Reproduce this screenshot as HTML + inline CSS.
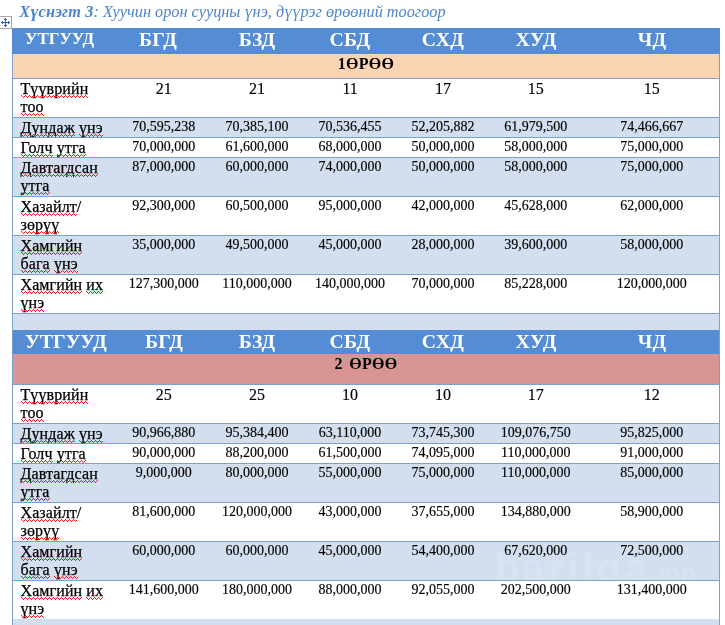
<!DOCTYPE html>
<html lang="mn"><head><meta charset="utf-8"><title>Хүснэгт 3</title>
<style>
html,body{margin:0;padding:0;background:#fff;}
body{width:725px;height:625px;position:relative;overflow:hidden;font-family:"Liberation Serif","DejaVu Serif",serif;color:#000;}
.abs{position:absolute;}
.row{position:absolute;left:12px;width:708px;}
.hl{position:absolute;left:12px;width:708px;height:1px;background:#7ba0cd;}
.vl{position:absolute;width:1px;background:#7ba0cd;}
.title{position:absolute;white-space:nowrap;font-style:italic;color:#4d84cc;}
.title b{font-weight:bold;letter-spacing:0.15px;}
.hd{position:absolute;color:#fff;font-weight:bold;text-align:center;white-space:nowrap;letter-spacing:0.01em;transform:scaleX(1.06);transform-origin:50% 50%;}
.lab{-webkit-text-stroke:0.25px #000;position:absolute;white-space:nowrap;font-size:16px;line-height:18px;height:18px;letter-spacing:0.1px;}
.num{-webkit-text-stroke:0.15px #000;position:absolute;text-align:center;white-space:nowrap;width:140px;margin-left:-70px;}
.w{display:inline-block;position:relative;}
.w::after{content:"";position:absolute;left:0;right:0;top:15px;height:3px;
background-image:linear-gradient(90deg,#e42020 1px,transparent 1px),linear-gradient(90deg,transparent 1px,#e42020 1px,#e42020 2px,transparent 2px,transparent 3px,#e42020 3px),linear-gradient(90deg,transparent 2px,#e42020 2px,#e42020 3px,transparent 3px);
background-size:4px 1px,4px 1px,4px 1px;background-position:0 0,0 1px,0 2px;background-repeat:repeat-x;}
.sec{position:absolute;left:12px;width:708px;text-align:center;font-weight:bold;white-space:pre;font-size:16px;line-height:20px;letter-spacing:0.3px;}
</style></head><body>

<div class="title" style="left:19.3px;top:3.2px;font-size:16.27px;line-height:18px"><b>Хүснэгт 3</b>: Хуучин орон сууцны үнэ, дүүрэг өрөөний тоогоор</div>
<div class="abs" style="left:-1px;top:16px;width:13px;height:13px;border:1px solid #a8a8a8;background:#fcfcff;box-sizing:border-box"></div>
<svg class="abs" style="left:1px;top:18px" width="9" height="9" viewBox="0 0 9 9" shape-rendering="crispEdges" fill="#2f62b5"><rect x="4" y="0" width="1" height="1"/><rect x="3" y="1" width="1" height="1"/><rect x="4" y="1" width="1" height="1"/><rect x="5" y="1" width="1" height="1"/><rect x="4" y="2" width="1" height="1"/><rect x="1" y="3" width="1" height="1"/><rect x="4" y="3" width="1" height="1"/><rect x="7" y="3" width="1" height="1"/><rect x="0" y="4" width="1" height="1"/><rect x="1" y="4" width="1" height="1"/><rect x="2" y="4" width="1" height="1"/><rect x="3" y="4" width="1" height="1"/><rect x="4" y="4" width="1" height="1"/><rect x="5" y="4" width="1" height="1"/><rect x="6" y="4" width="1" height="1"/><rect x="7" y="4" width="1" height="1"/><rect x="8" y="4" width="1" height="1"/><rect x="1" y="5" width="1" height="1"/><rect x="4" y="5" width="1" height="1"/><rect x="7" y="5" width="1" height="1"/><rect x="4" y="6" width="1" height="1"/><rect x="3" y="7" width="1" height="1"/><rect x="4" y="7" width="1" height="1"/><rect x="5" y="7" width="1" height="1"/><rect x="4" y="8" width="1" height="1"/></svg>
<div class="row" style="top:28px;height:26px;background:#548dd4"></div>
<div class="hd" style="left:24.9px;top:28.1px;font-size:16px;line-height:22px;letter-spacing:0;transform:scaleX(1.055);transform-origin:0 50%">УТГУУД</div>
<div class="hd" style="left:97.9px;width:120px;top:28.6989px;font-size:18.67px;line-height:22px">БГД</div>
<div class="hd" style="left:196.7px;width:120px;top:28.6989px;font-size:18.67px;line-height:22px">БЗД</div>
<div class="hd" style="left:289.7px;width:120px;top:28.6989px;font-size:18.67px;line-height:22px">СБД</div>
<div class="hd" style="left:382.6px;width:120px;top:28.6989px;font-size:18.67px;line-height:22px">СХД</div>
<div class="hd" style="left:476.2px;width:120px;top:28.6989px;font-size:18.67px;line-height:22px">ХУД</div>
<div class="hd" style="left:592.2px;width:120px;top:28.6989px;font-size:18.67px;line-height:22px">ЧД</div>
<div class="row" style="top:54px;height:24px;background:#fbd4b4"></div>
<div class="sec" style="top:54.1px;word-spacing:0px">1ӨРӨӨ</div>
<div class="row" style="top:78px;height:39px;background:#fff"></div>
<div class="row" style="top:117px;height:20px;background:#d3dfee"></div>
<div class="row" style="top:137px;height:20px;background:#fff"></div>
<div class="row" style="top:157px;height:39px;background:#d3dfee"></div>
<div class="row" style="top:196px;height:39px;background:#fff"></div>
<div class="row" style="top:235px;height:39px;background:#d3dfee"></div>
<div class="row" style="top:274px;height:39px;background:#fff"></div>
<div class="hl" style="top:78px"></div>
<div class="hl" style="top:117px"></div>
<div class="hl" style="top:137px"></div>
<div class="hl" style="top:157px"></div>
<div class="hl" style="top:196px"></div>
<div class="hl" style="top:235px"></div>
<div class="hl" style="top:274px"></div>
<div class="hl" style="top:313px"></div>
<div class="lab" style="left:20.5px;top:80px"><span class="w">Түүврийн</span></div>
<div class="lab" style="left:20.5px;top:98px"><span class="w">тоо</span></div>
<div class="num" style="left:163.8px;top:80.1px;font-size:16px;line-height:18px">21</div>
<div class="num" style="left:257.1px;top:80.1px;font-size:16px;line-height:18px">21</div>
<div class="num" style="left:350.1px;top:80.1px;font-size:16px;line-height:18px">11</div>
<div class="num" style="left:443px;top:80.1px;font-size:16px;line-height:18px">17</div>
<div class="num" style="left:535.8px;top:80.1px;font-size:16px;line-height:18px">15</div>
<div class="num" style="left:651.8px;top:80.1px;font-size:16px;line-height:18px">15</div>
<div class="lab" style="left:20.5px;top:119px"><span class="w">Дундаж</span> <span class="w">үнэ</span></div>
<div class="num" style="left:163.8px;top:117.975px;font-size:14px;line-height:18px">70,595,238</div>
<div class="num" style="left:257.1px;top:117.975px;font-size:14px;line-height:18px">70,385,100</div>
<div class="num" style="left:350.1px;top:117.975px;font-size:14px;line-height:18px">70,536,455</div>
<div class="num" style="left:443px;top:117.975px;font-size:14px;line-height:18px">52,205,882</div>
<div class="num" style="left:535.8px;top:117.975px;font-size:14px;line-height:18px">61,979,500</div>
<div class="num" style="left:651.8px;top:117.975px;font-size:14px;line-height:18px">74,466,667</div>
<div class="lab" style="left:20.5px;top:139px"><span class="w">Голч</span> <span class="w">утга</span></div>
<div class="num" style="left:163.8px;top:137.975px;font-size:14px;line-height:18px">70,000,000</div>
<div class="num" style="left:257.1px;top:137.975px;font-size:14px;line-height:18px">61,600,000</div>
<div class="num" style="left:350.1px;top:137.975px;font-size:14px;line-height:18px">68,000,000</div>
<div class="num" style="left:443px;top:137.975px;font-size:14px;line-height:18px">50,000,000</div>
<div class="num" style="left:535.8px;top:137.975px;font-size:14px;line-height:18px">58,000,000</div>
<div class="num" style="left:651.8px;top:137.975px;font-size:14px;line-height:18px">75,000,000</div>
<div class="lab" style="left:20.5px;top:159px"><span class="w">Давтагдсан</span></div>
<div class="lab" style="left:20.5px;top:177px"><span class="w">утга</span></div>
<div class="num" style="left:163.8px;top:157.975px;font-size:14px;line-height:18px">87,000,000</div>
<div class="num" style="left:257.1px;top:157.975px;font-size:14px;line-height:18px">60,000,000</div>
<div class="num" style="left:350.1px;top:157.975px;font-size:14px;line-height:18px">74,000,000</div>
<div class="num" style="left:443px;top:157.975px;font-size:14px;line-height:18px">50,000,000</div>
<div class="num" style="left:535.8px;top:157.975px;font-size:14px;line-height:18px">58,000,000</div>
<div class="num" style="left:651.8px;top:157.975px;font-size:14px;line-height:18px">75,000,000</div>
<div class="lab" style="left:20.5px;top:198px"><span class="w">Хазайлт</span>/</div>
<div class="lab" style="left:20.5px;top:216px"><span class="w">зөрүү</span></div>
<div class="num" style="left:163.8px;top:196.975px;font-size:14px;line-height:18px">92,300,000</div>
<div class="num" style="left:257.1px;top:196.975px;font-size:14px;line-height:18px">60,500,000</div>
<div class="num" style="left:350.1px;top:196.975px;font-size:14px;line-height:18px">95,000,000</div>
<div class="num" style="left:443px;top:196.975px;font-size:14px;line-height:18px">42,000,000</div>
<div class="num" style="left:535.8px;top:196.975px;font-size:14px;line-height:18px">45,628,000</div>
<div class="num" style="left:651.8px;top:196.975px;font-size:14px;line-height:18px">62,000,000</div>
<div class="lab" style="left:20.5px;top:237px"><span class="w">Хамгийн</span></div>
<div class="lab" style="left:20.5px;top:255px"><span class="w">бага</span> <span class="w">үнэ</span></div>
<div class="num" style="left:163.8px;top:235.975px;font-size:14px;line-height:18px">35,000,000</div>
<div class="num" style="left:257.1px;top:235.975px;font-size:14px;line-height:18px">49,500,000</div>
<div class="num" style="left:350.1px;top:235.975px;font-size:14px;line-height:18px">45,000,000</div>
<div class="num" style="left:443px;top:235.975px;font-size:14px;line-height:18px">28,000,000</div>
<div class="num" style="left:535.8px;top:235.975px;font-size:14px;line-height:18px">39,600,000</div>
<div class="num" style="left:651.8px;top:235.975px;font-size:14px;line-height:18px">58,000,000</div>
<div class="lab" style="left:20.5px;top:276px"><span class="w">Хамгийн</span> <span class="w">их</span></div>
<div class="lab" style="left:20.5px;top:294px"><span class="w">үнэ</span></div>
<div class="num" style="left:163.8px;top:274.975px;font-size:14px;line-height:18px">127,300,000</div>
<div class="num" style="left:257.1px;top:274.975px;font-size:14px;line-height:18px">110,000,000</div>
<div class="num" style="left:350.1px;top:274.975px;font-size:14px;line-height:18px">140,000,000</div>
<div class="num" style="left:443px;top:274.975px;font-size:14px;line-height:18px">70,000,000</div>
<div class="num" style="left:535.8px;top:274.975px;font-size:14px;line-height:18px">85,228,000</div>
<div class="num" style="left:651.8px;top:274.975px;font-size:14px;line-height:18px">120,000,000</div>
<div class="row" style="top:313px;height:18px;background:#d3dfee"></div>
<div class="row" style="top:330px;height:24px;background:#548dd4"></div>
<div class="hd" style="left:25.4px;top:331.299px;font-size:18.67px;line-height:22px;letter-spacing:0;transform:scaleX(1.07);transform-origin:0 50%">УТГУУД</div>
<div class="hd" style="left:104.2px;width:120px;top:331.299px;font-size:18.67px;line-height:22px">БГД</div>
<div class="hd" style="left:196.7px;width:120px;top:331.299px;font-size:18.67px;line-height:22px">БЗД</div>
<div class="hd" style="left:289.7px;width:120px;top:331.299px;font-size:18.67px;line-height:22px">СБД</div>
<div class="hd" style="left:382.6px;width:120px;top:331.299px;font-size:18.67px;line-height:22px">СХД</div>
<div class="hd" style="left:476.2px;width:120px;top:331.299px;font-size:18.67px;line-height:22px">ХУД</div>
<div class="hd" style="left:592.2px;width:120px;top:331.299px;font-size:18.67px;line-height:22px">ЧД</div>
<div class="row" style="top:354px;height:30px;background:#d99594"></div>
<div class="sec" style="top:354.1px;word-spacing:-1px">2  ӨРӨӨ</div>
<div class="row" style="top:384px;height:39px;background:#fff"></div>
<div class="row" style="top:423px;height:20px;background:#d3dfee"></div>
<div class="row" style="top:443px;height:20px;background:#fff"></div>
<div class="row" style="top:463px;height:39px;background:#d3dfee"></div>
<div class="row" style="top:502px;height:39px;background:#fff"></div>
<div class="row" style="top:541px;height:39px;background:#d3dfee"></div>
<div class="row" style="top:580px;height:39px;background:#fff"></div>
<div class="hl" style="top:384px"></div>
<div class="hl" style="top:423px"></div>
<div class="hl" style="top:443px"></div>
<div class="hl" style="top:463px"></div>
<div class="hl" style="top:502px"></div>
<div class="hl" style="top:541px"></div>
<div class="hl" style="top:580px"></div>
<div class="hl" style="top:619px"></div>
<div class="lab" style="left:20.5px;top:386px"><span class="w">Түүврийн</span></div>
<div class="lab" style="left:20.5px;top:404px"><span class="w">тоо</span></div>
<div class="num" style="left:163.8px;top:386.1px;font-size:16px;line-height:18px">25</div>
<div class="num" style="left:257.1px;top:386.1px;font-size:16px;line-height:18px">25</div>
<div class="num" style="left:350.1px;top:386.1px;font-size:16px;line-height:18px">10</div>
<div class="num" style="left:443px;top:386.1px;font-size:16px;line-height:18px">10</div>
<div class="num" style="left:535.8px;top:386.1px;font-size:16px;line-height:18px">17</div>
<div class="num" style="left:651.8px;top:386.1px;font-size:16px;line-height:18px">12</div>
<div class="lab" style="left:20.5px;top:425px"><span class="w">Дундаж</span> <span class="w">үнэ</span></div>
<div class="num" style="left:163.8px;top:423.975px;font-size:14px;line-height:18px">90,966,880</div>
<div class="num" style="left:257.1px;top:423.975px;font-size:14px;line-height:18px">95,384,400</div>
<div class="num" style="left:350.1px;top:423.975px;font-size:14px;line-height:18px">63,110,000</div>
<div class="num" style="left:443px;top:423.975px;font-size:14px;line-height:18px">73,745,300</div>
<div class="num" style="left:535.8px;top:423.975px;font-size:14px;line-height:18px">109,076,750</div>
<div class="num" style="left:651.8px;top:423.975px;font-size:14px;line-height:18px">95,825,000</div>
<div class="lab" style="left:20.5px;top:445px"><span class="w">Голч</span> <span class="w">утга</span></div>
<div class="num" style="left:163.8px;top:443.975px;font-size:14px;line-height:18px">90,000,000</div>
<div class="num" style="left:257.1px;top:443.975px;font-size:14px;line-height:18px">88,200,000</div>
<div class="num" style="left:350.1px;top:443.975px;font-size:14px;line-height:18px">61,500,000</div>
<div class="num" style="left:443px;top:443.975px;font-size:14px;line-height:18px">74,095,000</div>
<div class="num" style="left:535.8px;top:443.975px;font-size:14px;line-height:18px">110,000,000</div>
<div class="num" style="left:651.8px;top:443.975px;font-size:14px;line-height:18px">91,000,000</div>
<div class="lab" style="left:20.5px;top:465px"><span class="w">Давтагдсан</span></div>
<div class="lab" style="left:20.5px;top:483px"><span class="w">утга</span></div>
<div class="num" style="left:163.8px;top:463.975px;font-size:14px;line-height:18px">9,000,000</div>
<div class="num" style="left:257.1px;top:463.975px;font-size:14px;line-height:18px">80,000,000</div>
<div class="num" style="left:350.1px;top:463.975px;font-size:14px;line-height:18px">55,000,000</div>
<div class="num" style="left:443px;top:463.975px;font-size:14px;line-height:18px">75,000,000</div>
<div class="num" style="left:535.8px;top:463.975px;font-size:14px;line-height:18px">110,000,000</div>
<div class="num" style="left:651.8px;top:463.975px;font-size:14px;line-height:18px">85,000,000</div>
<div class="lab" style="left:20.5px;top:504px"><span class="w">Хазайлт</span>/</div>
<div class="lab" style="left:20.5px;top:522px"><span class="w">зөрүү</span></div>
<div class="num" style="left:163.8px;top:502.975px;font-size:14px;line-height:18px">81,600,000</div>
<div class="num" style="left:257.1px;top:502.975px;font-size:14px;line-height:18px">120,000,000</div>
<div class="num" style="left:350.1px;top:502.975px;font-size:14px;line-height:18px">43,000,000</div>
<div class="num" style="left:443px;top:502.975px;font-size:14px;line-height:18px">37,655,000</div>
<div class="num" style="left:535.8px;top:502.975px;font-size:14px;line-height:18px">134,880,000</div>
<div class="num" style="left:651.8px;top:502.975px;font-size:14px;line-height:18px">58,900,000</div>
<div class="lab" style="left:20.5px;top:543px"><span class="w">Хамгийн</span></div>
<div class="lab" style="left:20.5px;top:561px"><span class="w">бага</span> <span class="w">үнэ</span></div>
<div class="num" style="left:163.8px;top:541.975px;font-size:14px;line-height:18px">60,000,000</div>
<div class="num" style="left:257.1px;top:541.975px;font-size:14px;line-height:18px">60,000,000</div>
<div class="num" style="left:350.1px;top:541.975px;font-size:14px;line-height:18px">45,000,000</div>
<div class="num" style="left:443px;top:541.975px;font-size:14px;line-height:18px">54,400,000</div>
<div class="num" style="left:535.8px;top:541.975px;font-size:14px;line-height:18px">67,620,000</div>
<div class="num" style="left:651.8px;top:541.975px;font-size:14px;line-height:18px">72,500,000</div>
<div class="lab" style="left:20.5px;top:582px"><span class="w">Хамгийн</span> <span class="w">их</span></div>
<div class="lab" style="left:20.5px;top:600px"><span class="w">үнэ</span></div>
<div class="num" style="left:163.8px;top:580.975px;font-size:14px;line-height:18px">141,600,000</div>
<div class="num" style="left:257.1px;top:580.975px;font-size:14px;line-height:18px">180,000,000</div>
<div class="num" style="left:350.1px;top:580.975px;font-size:14px;line-height:18px">88,000,000</div>
<div class="num" style="left:443px;top:580.975px;font-size:14px;line-height:18px">92,055,000</div>
<div class="num" style="left:535.8px;top:580.975px;font-size:14px;line-height:18px">202,500,000</div>
<div class="num" style="left:651.8px;top:580.975px;font-size:14px;line-height:18px">131,400,000</div>
<div class="row" style="top:619px;height:6px;background:#d3dfee"></div>
<div class="hl" style="top:313px"></div>
<div class="vl" style="left:12px;top:54px;height:571px"></div>
<div class="vl" style="left:719px;top:54px;height:571px"></div>
<div class="abs" style="left:12px;top:542px;width:707px;height:38px;overflow:hidden"><div class="abs" style="left:483px;top:6px;font-family:'Liberation Sans',sans-serif;font-weight:bold;font-size:40px;line-height:40px;color:rgba(255,255,255,0.14);letter-spacing:3.4px;white-space:nowrap">barilga<span style="font-size:25px;letter-spacing:1px">.mn</span></div></div>
</body></html>
